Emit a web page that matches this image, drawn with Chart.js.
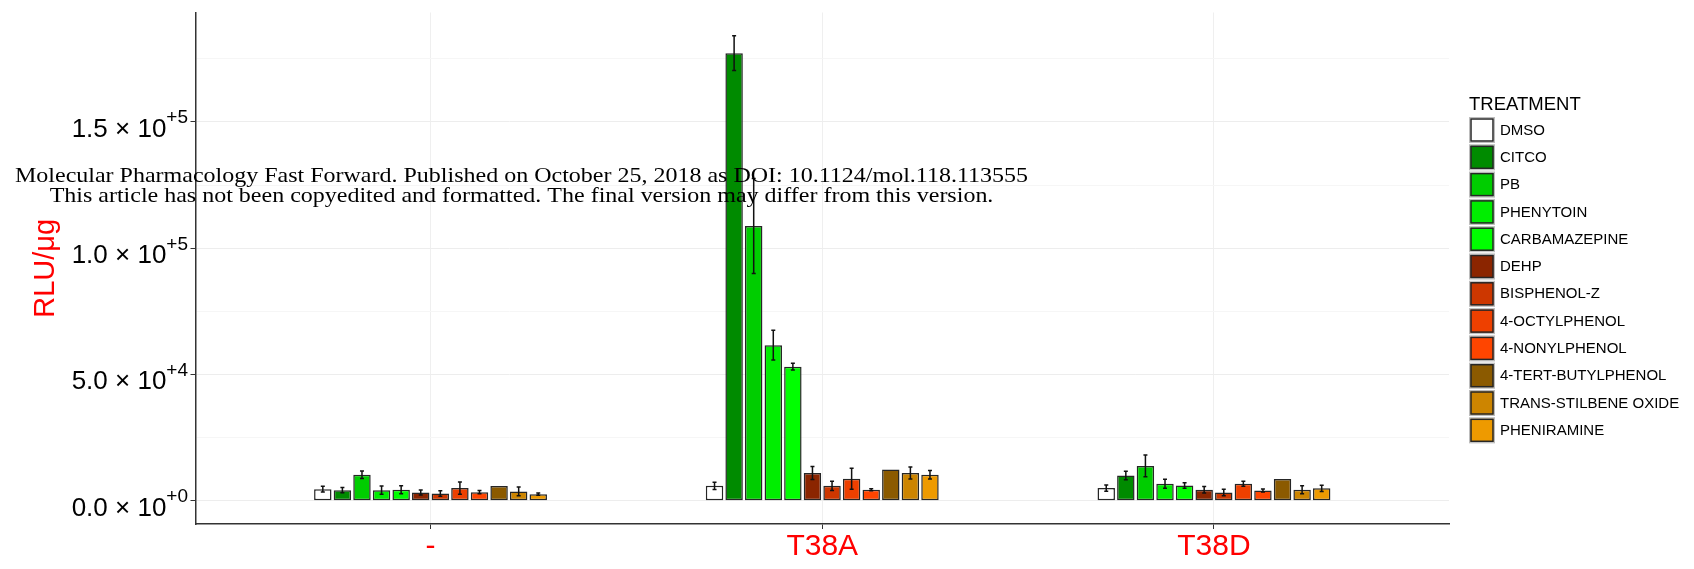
<!DOCTYPE html>
<html>
<head>
<meta charset="utf-8">
<script src="https://cdn.jsdelivr.net/npm/chart.js@4.4.1/dist/chart.umd.min.js"></script>
<style>
html,body{margin:0;padding:0;background:#ffffff;}
canvas{display:block;}
</style>
</head>
<body>
<canvas id="c" width="1694" height="569"></canvas>
<script>
// ---------------- data ----------------
const categories = ['-', 'T38A', 'T38D'];
const treatments = ['DMSO', 'CITCO', 'PB', 'PHENYTOIN', 'CARBAMAZEPINE', 'DEHP', 'BISPHENOL-Z',
  '4-OCTYLPHENOL', '4-NONYLPHENOL', '4-TERT-BUTYLPHENOL', 'TRANS-STILBENE OXIDE', 'PHENIRAMINE'];
const colors = ['#FFFFFF', '#008B00', '#00CD00', '#00EE00', '#00FF00', '#8B2500', '#CD3700',
  '#EE4000', '#FF4500', '#8B5A00', '#CD8500', '#EE9A00'];

// mean RLU/ug per treatment (same order as treatments)
const valuesMinus = [4600, 4200, 10300, 4200, 4350, 3300, 2900, 5000, 3400, 5800, 3700, 2600];
const valuesT38A  = [5900, 177200, 108800, 61600, 53100, 11000, 5900, 8700, 4350, 12400, 11000, 10300];
const valuesT38D  = [5000, 10000, 13800, 6700, 6050, 4350, 3300, 6700, 4100, 8600, 4350, 4900];

// error (half-length of error bar)
const errMinus = [1100, 1000, 1500, 1650, 1600, 1000, 1100, 2450, 650, 0, 1700, 450];
const errT38A  = [1450, 6900, 18800, 5900, 1300, 2600, 1800, 4150, 400, 0, 2400, 1700];
const errT38D  = [1200, 1650, 4300, 1800, 1100, 1300, 1300, 1000, 600, 0, 1600, 1200];

const yMajorTicks = [0, 50000, 100000, 150000];
const yMinorTicks = [25000, 75000, 125000, 175000];
const yTitle = 'RLU/\u03BCg';
const legendTitle = 'TREATMENT';
const watermarkLines = [
  'Molecular Pharmacology Fast Forward. Published on October 25, 2018 as DOI: 10.1124/mol.118.113555',
  'This article has not been copyedited and formatted. The final version may differ from this version.'
];

// ---------------- build ----------------
const groupValues = [valuesMinus, valuesT38A, valuesT38D];
const groupErrors = [errMinus, errT38A, errT38D];
const SANS = '"Liberation Sans", Arial, Helvetica, sans-serif';
const SERIF = '"Liberation Serif", "Times New Roman", Times, serif';
Chart.defaults.font.family = SANS;

const datasets = treatments.map((name, i) => ({
  label: name,
  data: categories.map((c, g) => ({ x: g + 1, y: groupValues[g][i] })),
  errors: categories.map((c, g) => groupErrors[g][i]),
  backgroundColor: colors[i],
  borderColor: '#262626',
  borderWidth: 1.5,
  borderSkipped: false,
  categoryPercentage: 0.6,
  barPercentage: 0.89
}));

const errorBarPlugin = {
  id: 'errorBars',
  afterDatasetsDraw(chart) {
    const ctx = chart.ctx;
    const ys = chart.scales.y;
    ctx.save();
    ctx.strokeStyle = '#111';
    ctx.lineWidth = 1.5;
    chart.data.datasets.forEach((ds, i) => {
      const meta = chart.getDatasetMeta(i);
      meta.data.forEach((bar, j) => {
        const e = ds.errors[j];
        if (!e) return;
        const v = ds.data[j].y;
        const y1 = ys.getPixelForValue(v + e);
        const y2 = ys.getPixelForValue(v - e);
        const x = bar.x;
        ctx.beginPath();
        ctx.moveTo(x, y1); ctx.lineTo(x, y2);
        ctx.moveTo(x - 2, y1); ctx.lineTo(x + 2, y1);
        ctx.moveTo(x - 2, y2); ctx.lineTo(x + 2, y2);
        ctx.stroke();
      });
    });
    ctx.restore();
  }
};

const decorPlugin = {
  id: 'decor',
  afterDraw(chart) {
    const ctx = chart.ctx;
    const ys = chart.scales.y;
    ctx.save();
    // y tick labels with superscript exponent
    ctx.fillStyle = '#000';
    ctx.textBaseline = 'alphabetic';
    ctx.textAlign = 'left';
    const right = 188;
    yMajorTicks.forEach(v => {
      const py = ys.getPixelForValue(v);
      const exp = v === 0 ? 0 : Math.floor(Math.log10(v));
      const mant = (v / Math.pow(10, exp)).toFixed(1);
      const main = mant + ' \u00D7 10';
      const sup = '+' + exp;
      ctx.font = '26px ' + SANS;
      const mw = ctx.measureText(main).width;
      ctx.font = '19px ' + SANS;
      const sw = ctx.measureText(sup).width;
      ctx.font = '26px ' + SANS;
      ctx.fillText(main, right - sw - mw, py + 15);
      ctx.font = '19px ' + SANS;
      ctx.fillText(sup, right - sw, py + 1.5);
    });

    // legend
    const lx = 1469, ly = 117, stride = 27.3, ks = 26;
    ctx.fillStyle = '#000';
    ctx.font = '18.5px ' + SANS;
    ctx.fillText(legendTitle, lx, 110);
    ctx.font = '15px ' + SANS;
    ctx.textBaseline = 'middle';
    chart.data.datasets.forEach((ds, i) => {
      const y = ly + i * stride;
      ctx.fillStyle = '#F2F2F2';
      ctx.fillRect(lx, y, ks, ks);
      ctx.strokeStyle = '#BDBDBD';
      ctx.lineWidth = 1;
      ctx.strokeRect(lx + 0.5, y + 0.5, ks - 1, ks - 1);
      ctx.fillStyle = ds.backgroundColor;
      ctx.fillRect(lx + 1.5, y + 1.5, ks - 3, ks - 3);
      ctx.strokeStyle = '#262626';
      ctx.lineWidth = 1.5;
      ctx.strokeRect(lx + 2, y + 2, ks - 4, ks - 4);
      ctx.fillStyle = '#000';
      ctx.fillText(ds.label, lx + 31, y + ks / 2 + 0.5);
    });

    // watermark (horizontally stretched serif text, as in the source)
    ctx.fillStyle = '#000';
    ctx.textAlign = 'center';
    ctx.textBaseline = 'alphabetic';
    ctx.font = '21.5px ' + SERIF;
    const w0 = ctx.measureText(watermarkLines[0]).width;
    const sx = 1013 / w0;
    ctx.translate(521.5, 0);
    ctx.scale(sx, 1);
    ctx.fillText(watermarkLines[0], 0, 181.5);
    ctx.fillText(watermarkLines[1], 0, 201.5);
    ctx.restore();
  }
};

new Chart(document.getElementById('c'), {
  type: 'bar',
  data: { datasets },
  options: {
    responsive: false,
    animation: false,
    devicePixelRatio: 1,
    layout: { padding: { left: 0, right: 245, top: 12.5, bottom: 0 } },
    plugins: { legend: { display: false }, tooltip: { enabled: false } },
    scales: {
      x: {
        type: 'linear',
        min: 0.4,
        max: 3.6,
        offset: false,
        afterBuildTicks: s => { s.ticks = categories.map((c, i) => ({ value: i + 1 })); },
        afterFit: s => { s.height = 45; },
        ticks: {
          callback: (v, i) => categories[i],
          color: '#FF0000',
          font: { size: 30 },
          padding: 0,
          autoSkip: false,
          maxRotation: 0
        },
        grid: { offset: false, color: '#EFEFEF', lineWidth: 1, tickColor: '#333', tickLength: 5 },
        border: { display: true, color: '#333', width: 1.5 }
      },
      y: {
        min: -9205,
        max: 193305,
        afterBuildTicks: s => {
          s.ticks = yMajorTicks.concat(yMinorTicks).sort((a, b) => a - b).map(v => ({ value: v }));
        },
        afterFit: s => { s.width = 195.5; },
        ticks: { callback: () => '' },
        grid: {
          color: c => (yMajorTicks.includes(c.tick.value) ? '#EDEDED' : '#F6F6F6'),
          lineWidth: 1,
          tickColor: c => (yMajorTicks.includes(c.tick.value) ? '#333' : 'rgba(0,0,0,0)'),
          tickLength: 5
        },
        border: { display: true, color: '#333', width: 1.5 },
        title: {
          display: true,
          text: yTitle,
          color: '#FF0000',
          font: { size: 29 },
          padding: { top: 29, bottom: 0 }
        }
      }
    }
  },
  plugins: [errorBarPlugin, decorPlugin]
});
</script>
</body>
</html>
